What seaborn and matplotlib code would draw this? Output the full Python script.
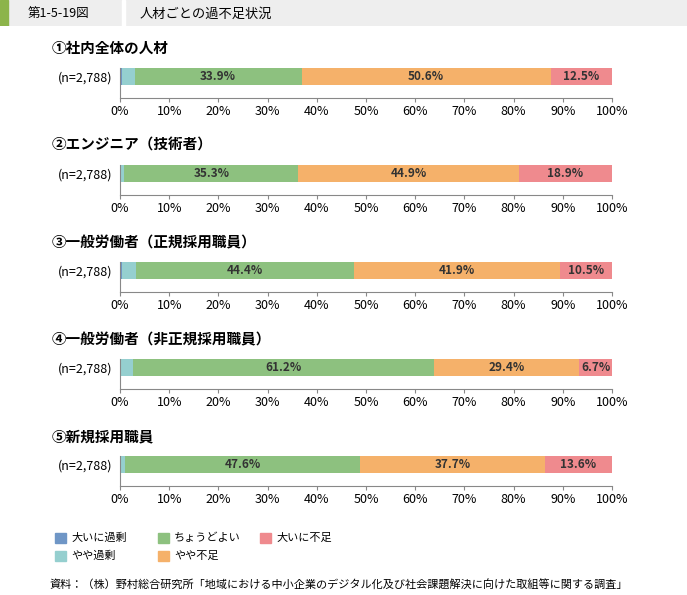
import matplotlib
matplotlib.use("Agg")
import matplotlib.pyplot as plt
import seaborn as sns
import pandas as pd
import numpy as np
from matplotlib.patches import Rectangle, Patch

plt.rcParams["font.family"] = "Noto Sans CJK JP"

titles = ["①社内全体の人材", "②エンジニア（技術者）", "③一般労働者（正規採用職員）",
          "④一般労働者（非正規採用職員）", "⑤新規採用職員"]
categories = ["大いに過剰", "やや過剰", "ちょうどよい", "やや不足", "大いに不足"]
v_big_over = [0.4, 0.3, 0.4, 0.3, 0.3]
v_some_over = [2.6, 0.6, 2.8, 2.4, 0.8]
v_ok = [33.9, 35.3, 44.4, 61.2, 47.6]
v_some_short = [50.6, 44.9, 41.9, 29.4, 37.7]
v_big_short = [12.5, 18.9, 10.5, 6.7, 13.6]
n_label = "(n=2,788)"
colors = ["#6f96c6", "#95cfcf", "#8dc17f", "#f5b16a", "#ef8a8e"]

W, H = 687, 595
fig = plt.figure(figsize=(W/100, H/100), dpi=100)

# header
hdr = fig.add_axes([0, 1-26/H, 1, 26/H]); hdr.axis("off")
hdr.add_patch(Rectangle((0, 0), 1, 1, color="#eeeeee", transform=hdr.transAxes))
hdr.add_patch(Rectangle((0, 0), 8/W, 1, color="#8cb44a", transform=hdr.transAxes))
hdr.add_patch(Rectangle((122/W, 0), 3/W, 1, color="white", transform=hdr.transAxes))
fig.text(28/W, 1-14/H, "第1-5-19図", fontsize=9, va="center")
fig.text(140/W, 1-14/H, "人材ごとの過不足状況", fontsize=9.5, va="center")

x0, x1 = 120, 612
series = [v_big_over, v_some_over, v_ok, v_some_short, v_big_short]
for i in range(5):
    top = 68 + i*97
    fig.text(52/W, 1-(top-20)/H, titles[i], fontsize=10.5, fontweight="bold", va="center")
    ax = fig.add_axes([x0/W, 1-(top+30)/H, (x1-x0)/W, 30/H])
    vals = [s[i] for s in series]
    cum = np.cumsum(vals)
    for k in range(4, -1, -1):
        df = pd.DataFrame({"y": ["a"], "x": [cum[k]]})
        sns.barplot(data=df, x="x", y="y", orient="h", color=colors[k], width=1,
                    saturation=1, ax=ax, linewidth=0)
    ax.set_xlim(0, 100); ax.set_ylim(1.3, -0.5)
    left = 0
    for k in range(5):
        if k >= 2:
            ax.text(left + vals[k]/2, 0, f"{vals[k]:.1f}%", ha="center", va="center",
                    fontsize=8.5, fontweight="bold", color="#333333")
        left += vals[k]
    ax.set_xlabel(""); ax.set_ylabel("")
    ax.set_yticks([])
    ax.set_xticks(range(0, 101, 10))
    ax.set_xticklabels([f"{t}%" for t in range(0, 101, 10)], fontsize=9)
    ax.tick_params(axis="x", length=3, color="#888888", pad=2)
    for s in ["top", "right"]:
        ax.spines[s].set_visible(False)
    ax.spines["bottom"].set_color("#888888"); ax.spines["left"].set_color("#888888")
    fig.text(112/W, 1-(top+10)/H, n_label, fontsize=9, ha="right", va="center")

# legend
pos = [(55, 538), (55, 556), (158, 538), (158, 556), (260, 538)]
order = [0, 1, 2, 3, 4]
for k, (px, py) in zip(order, pos):
    fig.patches.append(Rectangle((px/W, 1-(py+5)/H), 11/W, 10/H, color=colors[k],
                                 transform=fig.transFigure, figure=fig))
    fig.text((px+16)/W, 1-py/H, categories[k], fontsize=8, va="center")

fig.text(50/W, 1-585/H, "資料：（株）野村総合研究所「地域における中小企業のデジタル化及び社会課題解決に向けた取組等に関する調査」",
         fontsize=8, va="center")
fig.savefig("out.png", dpi=100)
